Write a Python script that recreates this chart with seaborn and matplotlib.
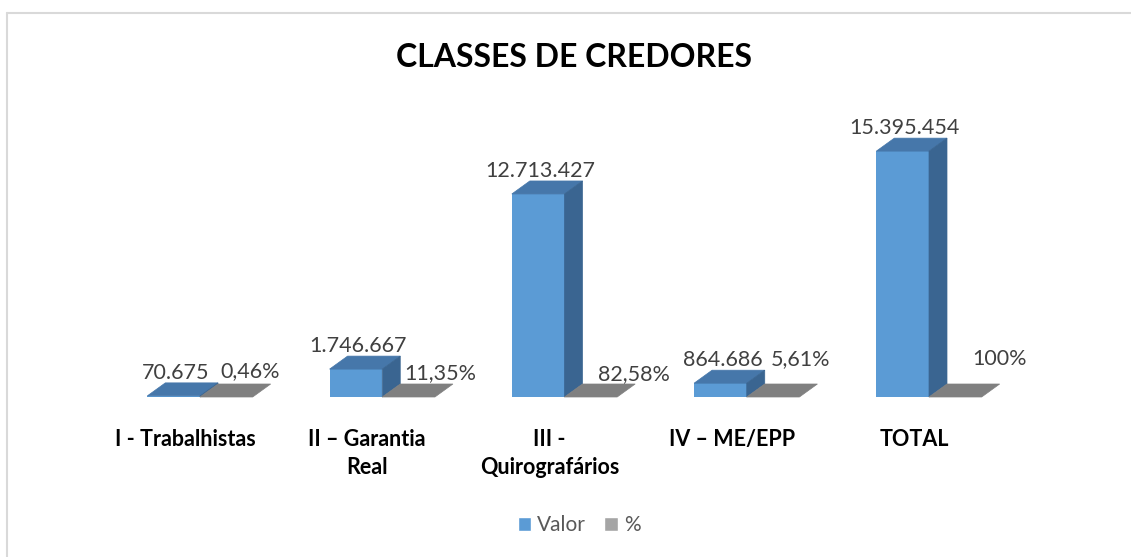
import numpy as np
import pandas as pd
import matplotlib
matplotlib.use("Agg")
import matplotlib.pyplot as plt
import seaborn as sns
from matplotlib.patches import Polygon, Patch
from matplotlib.lines import Line2D
from matplotlib.transforms import ScaledTranslation

# ---- data ----
categories = ["I - Trabalhistas", "II – Garantia\nReal", "III -\nQuirografários", "IV – ME/EPP", "TOTAL"]
valor = [70675, 1746667, 12713427, 864686, 15395454]
percent = [0.0046, 0.1135, 0.8258, 0.0561, 1.0]
valor_labels = ["70.675", "1.746.667", "12.713.427", "864.686", "15.395.454"]
percent_labels = ["0,46%", "11,35%", "82,58%", "5,61%", "100%"]
series = ["Valor", "%"]

df = pd.DataFrame({
    "cat": categories * 2,
    "serie": [series[0]] * len(categories) + [series[1]] * len(categories),
    "value": valor + percent,
})

sns.set_theme(style="white")
plt.rcParams['font.family'] = ['Lato', 'DejaVu Sans']

BLUE = "#5B9BD5"
BLUE_TOP = "#4677AA"
BLUE_SIDE = "#3A6591"
GRAY = "#7F7F7F"
GRAY_TOP = "#808080"
GRAY_LEG = "#A5A5A5"

W, H = 1131, 557
fig = plt.figure(figsize=(W / 100, H / 100), dpi=100)
px_per_cat = 182.25
x0_px = 200.0
base_px = 397.0
top_px = 100.0
px_per_val = 15.97e-6
xlim = (-0.6, 4.6)
left_px = x0_px - (0 - xlim[0]) * px_per_cat
width_px = (xlim[1] - xlim[0]) * px_per_cat
ymax = (base_px - top_px) / px_per_val

ax = fig.add_axes([left_px / W, (H - base_px) / H, width_px / W, (base_px - top_px) / H])
sns.barplot(data=df, x="cat", y="value", hue="serie", hue_order=series,
            palette=[BLUE, GRAY], width=0.578, ax=ax, legend=False,
            saturation=1, linewidth=0, errorbar=None)
ax.set_xlim(*xlim)
ax.set_ylim(0, ymax)
ax.set_yticks([])
ax.set_xlabel("")
ax.set_ylabel("")
for s in ax.spines.values():
    s.set_visible(False)
ax.patch.set_alpha(0)

# 3D depth faces
ddx = 18.0 / px_per_cat
ddy = 13.0 / px_per_val
for r in ax.containers[0]:
    x, w, h = r.get_x(), r.get_width(), r.get_height()
    top = Polygon([(x, h), (x + w, h), (x + w + ddx, h + ddy), (x + ddx, h + ddy)],
                  closed=True, facecolor=BLUE_TOP, edgecolor=BLUE_TOP, linewidth=0.5, zorder=3, clip_on=False)
    side = Polygon([(x + w, 0), (x + w + ddx, ddy), (x + w + ddx, h + ddy), (x + w, h)],
                   closed=True, facecolor=BLUE_SIDE, edgecolor=BLUE_SIDE, linewidth=0.5, zorder=3, clip_on=False)
    ax.add_patch(top)
    ax.add_patch(side)
for r in ax.containers[1]:
    x, w, h = r.get_x(), r.get_width(), r.get_height()
    top = Polygon([(x, h), (x + w, h), (x + w + ddx, h + ddy), (x + ddx, h + ddy)],
                  closed=True, facecolor=GRAY_TOP, edgecolor=GRAY_TOP, linewidth=0.5, zorder=3, clip_on=False)
    ax.add_patch(top)

# data labels
for i, r in enumerate(ax.containers[0]):
    ax.annotate(valor_labels[i], (r.get_x() + r.get_width() / 2, r.get_height()),
                xytext=(2, 17), textcoords="offset pixels", ha="center", va="baseline",
                fontsize=15.5, color="#404040", zorder=5)
gray_dx = [23.5, 31.5, 43, 27.5, 44.5]
gray_dy = [20, 18, 17, 32, 32]
for i, r in enumerate(ax.containers[1]):
    ax.annotate(percent_labels[i], (r.get_x() + r.get_width() / 2, 0),
                xytext=(gray_dx[i], gray_dy[i]), textcoords="offset pixels", ha="center", va="baseline",
                fontsize=15.5, color="#404040", zorder=5)

# tick labels
ax.tick_params(axis="x", length=0, pad=23, labelsize=15.5, labelcolor="black")
for lab in ax.get_xticklabels():
    lab.set_fontweight("bold")
    lab.set_linespacing(1.4)
    lab.set_transform(lab.get_transform() + ScaledTranslation(-0.15, 0, fig.dpi_scale_trans))

# title
fig.text(574 / W, 1 - 67 / H, "CLASSES DE CREDORES", ha="center", va="baseline",
         fontsize=23, fontweight="bold", color="black")

# legend
handles = [Patch(facecolor=BLUE, label=series[0]), Patch(facecolor=GRAY_LEG, label=series[1])]
fig.legend(handles=handles, loc="center", bbox_to_anchor=(579 / W, 1 - 525 / H), ncol=2,
           frameon=False, fontsize=15, handlelength=0.65, handleheight=0.65,
           handletextpad=0.3, columnspacing=0.85, labelcolor="#595959")

# chart border (top and left visible)
fig.add_artist(Line2D([7 / W, 7 / W], [0, 1 - 13 / H], transform=fig.transFigure, color="#D9D9D9", linewidth=1.5))
fig.add_artist(Line2D([7 / W, 1], [1 - 13 / H, 1 - 13 / H], transform=fig.transFigure, color="#D9D9D9", linewidth=1.5))

fig.savefig("out.png", dpi=100)
